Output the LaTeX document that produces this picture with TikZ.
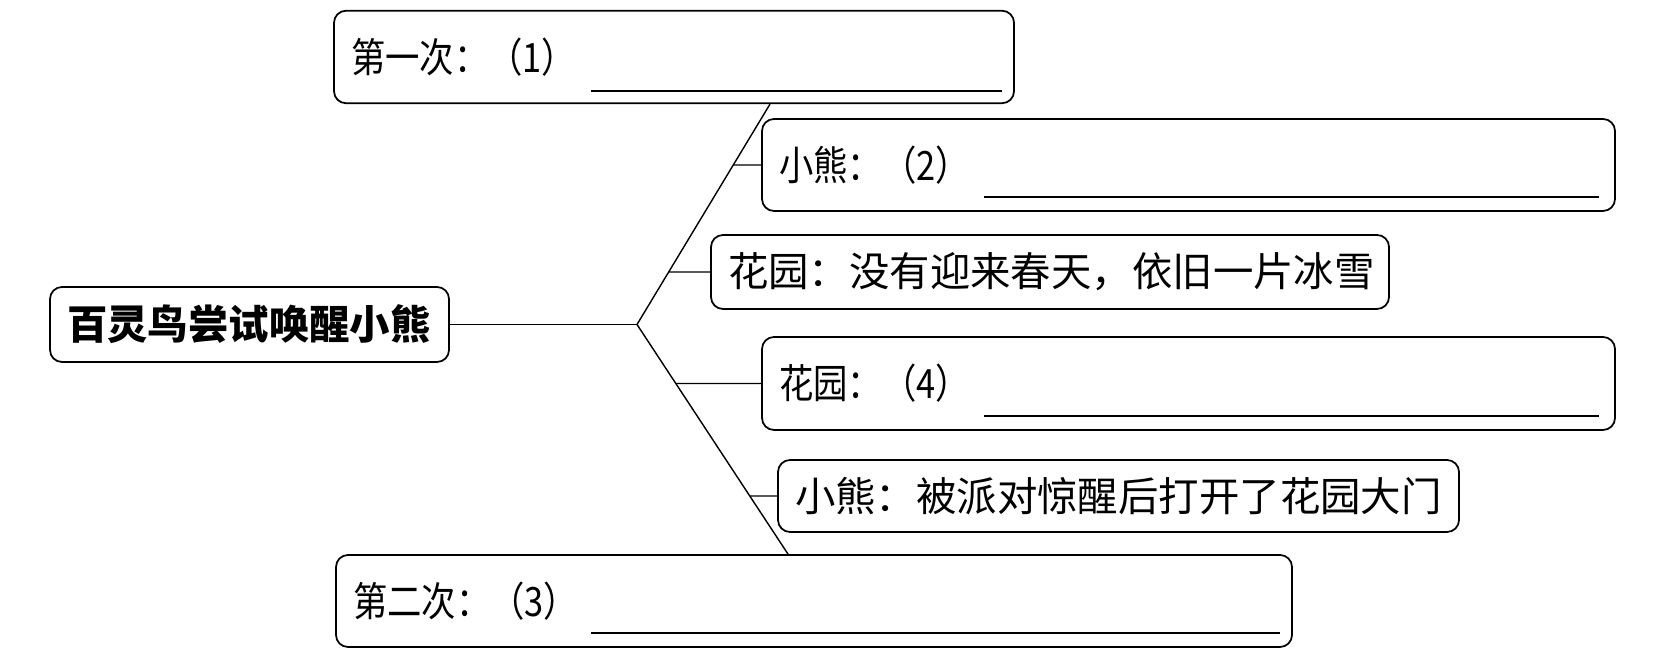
\documentclass[tikz,border=0pt]{standalone}
\usepackage{fontspec}
\newfontfamily\cjk{Noto Sans CJK SC}
\newfontfamily\cjknarrow[FakeStretch=0.85]{Noto Sans CJK SC}
\tikzset{
    box/.style={draw,line width=1pt,rounded corners=0.24cm,inner xsep=0.34cm,inner ysep=0pt,align=left},
    link/.style={line width=0.8pt},
}
\begin{document}
\begin{tikzpicture}[font=\fontsize{23}{27}\selectfont]
    \useasboundingbox (0,0) rectangle (33.38,13.2);

    \coordinate (A) at (4.99,6.71);
    \coordinate (B) at (13.48,12.06);
    \coordinate (C) at (23.77,9.90);
    \coordinate (D) at (21.00,7.76);
    \coordinate (E) at (23.77,5.53);
    \coordinate (F) at (22.37,3.28);
    \coordinate (G) at (16.28,1.18);
    \coordinate (hub) at (12.74,6.71);

    \node[box,text width=7.3cm,minimum height=1.5cm,font=\fontsize{23}{27}\selectfont\cjk\bfseries] (main) at (A) {百灵鸟尝试唤醒小熊};
    \node[box,text width=12.92cm,minimum height=1.85cm,font=\fontsize{23}{27}\selectfont\cjknarrow] (b1) at (B) {第一次：（1）};
    \node[box,text width=16.38cm,minimum height=1.84cm,font=\fontsize{23}{27}\selectfont\cjknarrow] (b2) at (C) {小熊：（2）};
    \node[box,text width=12.88cm,minimum height=1.48cm,font=\fontsize{23}{27}\selectfont\cjk] (b3) at (D) {花园：没有迎来春天，依旧一片冰雪};
    \node[box,text width=16.38cm,minimum height=1.86cm,font=\fontsize{23}{27}\selectfont\cjknarrow] (b4) at (E) {花园：（4）};
    \node[box,text width=12.94cm,minimum height=1.44cm,font=\fontsize{23}{27}\selectfont\cjk] (b5) at (F) {小熊：被派对惊醒后打开了花园大门};
    \node[box,text width=18.44cm,minimum height=1.84cm,font=\fontsize{23}{27}\selectfont\cjknarrow] (b6) at (G) {第二次：（3）};

    % blanks to fill in
    \draw[line width=1pt] ([shift={(5.16,0.26)}]b1.south west) -- ([shift={(-0.26,0.26)}]b1.south east);
    \draw[line width=1pt] ([shift={(4.46,0.30)}]b2.south west) -- ([shift={(-0.34,0.30)}]b2.south east);
    \draw[line width=1pt] ([shift={(4.46,0.30)}]b4.south west) -- ([shift={(-0.34,0.30)}]b4.south east);
    \draw[line width=1pt] ([shift={(5.12,0.30)}]b6.south west) -- ([shift={(-0.26,0.30)}]b6.south east);

    \coordinate (tp) at ([xshift=1.92cm]b1.south);
    \coordinate (bt) at ([xshift=-0.52cm]b6.north);

    \draw[link] (main.east) -- (hub);
    \draw[link] (tp) -- (hub) -- (bt);
    \draw[link] (b2.west) -- (intersection of hub--tp and b2.west--b2.east);
    \draw[link] (b3.west) -- (intersection of hub--tp and b3.west--b3.east);
    \draw[link] (b4.west) -- (intersection of hub--bt and b4.west--b4.east);
    \draw[link] (b5.west) -- (intersection of hub--bt and b5.west--b5.east);
\end{tikzpicture}
\end{document}
